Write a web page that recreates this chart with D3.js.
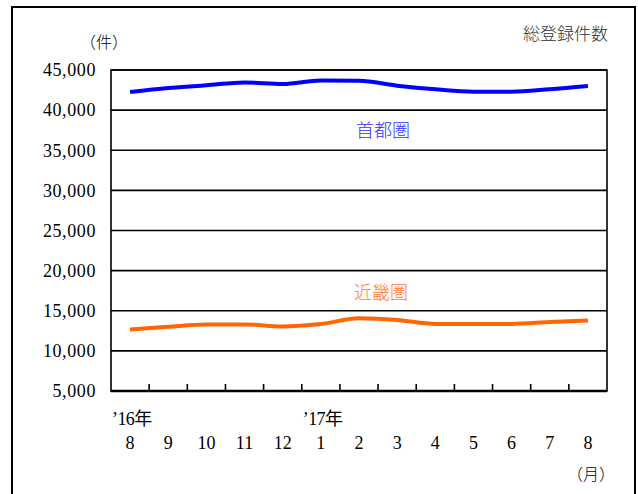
<!DOCTYPE html>
<html>
<head>
<meta charset="utf-8">
<script src="https://cdn.jsdelivr.net/npm/d3@7.9.0/dist/d3.min.js"></script>
<style>
  body { margin: 0; background: #fff; }
</style>
</head>
<body>
<svg width="638" height="494"></svg>
<script>
// months from Aug 2016 to Aug 2017
const months = ["8", "9", "10", "11", "12", "1", "2", "3", "4", "5", "6", "7", "8"];
const yearLabels = [{ i: 0, text: "’16年" }, { i: 5, text: "’17年" }];
const shutoken = [42250, 42750, 43100, 43450, 43250, 43700, 43650, 43050, 42600, 42300, 42300, 42600, 43000];
const kinki = [12650, 13000, 13300, 13300, 13050, 13350, 14050, 13850, 13350, 13350, 13350, 13600, 13800];
const yTicks = [5000, 10000, 15000, 20000, 25000, 30000, 35000, 40000, 45000];

const serif = "'Liberation Serif', 'Noto Sans CJK JP', serif";
const gothic = "'Noto Sans CJK JP', sans-serif";

const margin = { top: 70, right: 31, bottom: 103, left: 111 },
  width = 638 - margin.left - margin.right,
  height = 494 - margin.top - margin.bottom;

const svg = d3.select("svg");

// outer frame
svg.append("rect")
  .attr("x", 12).attr("y", 7)
  .attr("width", 623).attr("height", 500)
  .attr("fill", "none").attr("stroke", "#000").attr("stroke-width", 2);

const g = svg.append("g")
  .attr("transform", `translate(${margin.left},${margin.top})`);

const x = d3.scaleBand().domain(d3.range(months.length)).range([0, width]);
const y = d3.scaleLinear().domain([5000, 45000]).range([height, 0]);

// grid lines
g.selectAll(".grid")
  .data(yTicks)
  .join("line")
  .attr("x1", 0).attr("x2", width)
  .attr("y1", (d) => y(d)).attr("y2", (d) => y(d))
  .attr("stroke", "#000").attr("stroke-width", 1.6);

// plot border
g.append("rect")
  .attr("width", width).attr("height", height)
  .attr("fill", "none").attr("stroke", "#000").attr("stroke-width", 1.6);

// y axis labels
const yAxis = g.append("g")
  .call(d3.axisLeft(y).tickValues(yTicks).tickSize(0).tickPadding(15)
    .tickFormat(d3.format(",")));
yAxis.select(".domain").remove();
yAxis.selectAll("text")
  .attr("fill", "#000")
  .style("font-family", serif)
  .style("font-size", "18px")
  .attr("letter-spacing", 0.6);

// bottom axis with inward ticks at category boundaries
g.append("line")
  .attr("x1", 0).attr("x2", width)
  .attr("y1", height).attr("y2", height)
  .attr("stroke", "#000").attr("stroke-width", 2.6);

g.selectAll(".xtick")
  .data(d3.range(1, months.length))
  .join("line")
  .attr("x1", (d) => x(d)).attr("x2", (d) => x(d))
  .attr("y1", height).attr("y2", height - 7)
  .attr("stroke", "#000").attr("stroke-width", 1.6);

g.selectAll(".month")
  .data(months)
  .join("text")
  .attr("x", (d, i) => x(i) + x.bandwidth() / 2)
  .attr("y", height + 58)
  .attr("text-anchor", "middle")
  .style("font-family", serif)
  .style("font-size", "18px")
  .text((d) => d);

g.selectAll(".year")
  .data(yearLabels)
  .join("text")
  .attr("x", (d) => x(d.i) + 1)
  .attr("y", height + 34)
  .style("font-family", serif)
  .style("font-size", "18px")
  .attr("letter-spacing", -0.6)
  .text((d) => d.text);

// lines
const line = d3.line()
  .x((d, i) => x(i) + x.bandwidth() / 2)
  .y((d) => y(d))
  .curve(d3.curveMonotoneX);

g.append("path")
  .datum(shutoken)
  .attr("fill", "none").attr("stroke", "#0000ff").attr("stroke-width", 4)
  .attr("d", line);

g.append("path")
  .datum(kinki)
  .attr("fill", "none").attr("stroke", "#ff6600").attr("stroke-width", 4)
  .attr("d", line);

// series labels
svg.append("text")
  .attr("x", 383).attr("y", 137)
  .attr("text-anchor", "middle")
  .attr("fill", "#3333ff")
  .style("font-family", gothic).style("font-size", "18px").style("font-weight", 300)
  .text("首都圏");

svg.append("text")
  .attr("x", 381).attr("y", 299)
  .attr("text-anchor", "middle")
  .attr("fill", "#ff7a2a")
  .style("font-family", gothic).style("font-size", "18px").style("font-weight", 300)
  .text("近畿圏");

// unit labels and title
svg.append("text")
  .attr("x", 104).attr("y", 48)
  .attr("text-anchor", "middle")
  .style("font-family", gothic).style("font-size", "16px").style("font-weight", 300)
  .text("（件）");

svg.append("text")
  .attr("x", 608).attr("y", 40)
  .attr("text-anchor", "end")
  .attr("fill", "#333")
  .style("font-family", gothic).style("font-size", "17px").style("font-weight", 300)
  .text("総登録件数");

svg.append("text")
  .attr("x", 591).attr("y", 480)
  .attr("text-anchor", "middle")
  .style("font-family", gothic).style("font-size", "16px").style("font-weight", 300)
  .text("（月）");
</script>
</body>
</html>
